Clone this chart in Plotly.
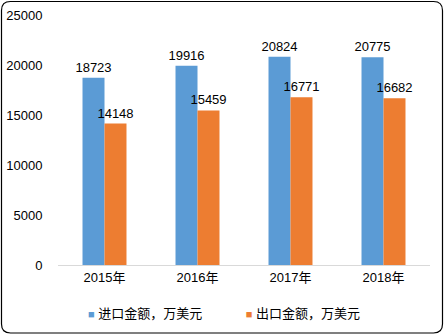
import plotly.graph_objects as go

years = ["2015年", "2016年", "2017年", "2018年"]
imports = [18723, 19916, 20824, 20775]
exports = [14148, 15459, 16771, 16682]
name_imp = "进口金额，万美元"
name_exp = "出口金额，万美元"
color_imp = "#5B9BD5"
color_exp = "#ED7D31"
yticks = [0, 5000, 10000, 15000, 20000, 25000]

FONT = "Liberation Sans, Noto Sans CJK SC, sans-serif"

fig = go.Figure()
for name, vals, col in [(name_imp, imports, color_imp), (name_exp, exports, color_exp)]:
    fig.add_trace(go.Bar(x=years, y=vals, name=name, marker_color=col,
                         marker_line_width=0,
                         text=[str(v) for v in vals],
                         textposition="outside",
                         constraintext="none",
                         textfont=dict(size=13, color="#000000"), cliponaxis=False,
                         showlegend=False))

W, H = 445, 335
L, R, T, B = 58, 15, 15, 70
pw, ph = W - L - R, H - T - B

def px(x):
    return (x - L) / pw

def py(y):
    return (H - B - y) / ph

x0, x1, y0, y1 = px(1.5), px(442.5), py(333), py(1.5)
rx, ry = 9 / pw, 9 / ph
path = (f"M {x0+rx},{y1} L {x1-rx},{y1} Q {x1},{y1} {x1},{y1-ry} "
        f"L {x1},{y0+ry} Q {x1},{y0} {x1-rx},{y0} "
        f"L {x0+rx},{y0} Q {x0},{y0} {x0},{y0+ry} "
        f"L {x0},{y1-ry} Q {x0},{y1} {x0+rx},{y1} Z")

sp = "&nbsp;"
legend_text = (f'<span style="color:{color_imp};font-size:11px">■</span>{sp}{name_imp}'
               + sp * 12 +
               f'<span style="color:{color_exp};font-size:11px">■</span>{sp}{name_exp}')

fig.update_layout(
    width=W, height=H,
    margin=dict(l=L, r=R, t=T, b=B, autoexpand=False),
    paper_bgcolor="white", plot_bgcolor="white",
    font=dict(family=FONT, size=13, color="#000000"),
    barmode="group", bargap=0.527, bargroupgap=0,
    showlegend=False,
    xaxis=dict(showline=True, linecolor="#D9D9D9", linewidth=1, ticks="",
               showgrid=False, tickfont=dict(size=13), automargin=False),
    yaxis=dict(range=[0, 25000], tickvals=yticks, ticktext=[str(v) for v in yticks],
               showgrid=False, zeroline=False, showline=False,
               ticks="outside", ticklen=12, tickcolor="rgba(0,0,0,0)",
               tickfont=dict(size=13), automargin=False),
    annotations=[dict(text=legend_text, xref="paper", yref="paper",
                      x=px(224), y=py(313), xanchor="center", yanchor="middle",
                      showarrow=False, font=dict(size=13))],
    shapes=[dict(type="path", path=path, xref="paper", yref="paper",
                 line=dict(color="#000000", width=1.2), fillcolor="rgba(0,0,0,0)",
                 layer="above")],
)

fig.write_html("out.html")
